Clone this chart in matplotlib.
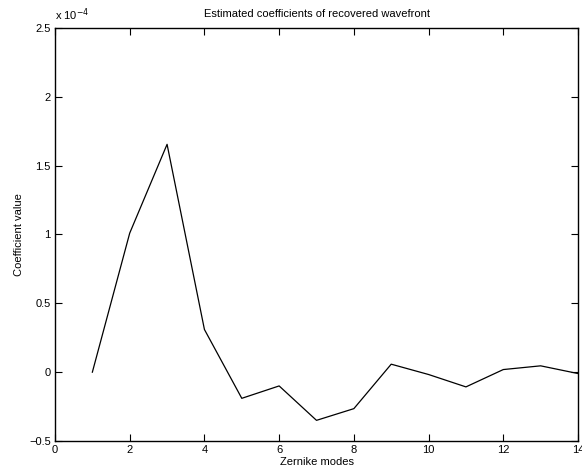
import matplotlib
matplotlib.use('Agg')
import matplotlib.pyplot as plt
import numpy as np

# Zernike mode index and estimated coefficient (units of 1e-4)
modes = np.arange(1, 15)
coeffs = np.array([0.0, 1.01, 1.655, 0.31, -0.19, -0.10, -0.35, -0.265,
                   0.058, -0.017, -0.107, 0.019, 0.046, -0.01])
xticks = [0, 2, 4, 6, 8, 10, 12, 14]
yticks = [-0.5, 0, 0.5, 1, 1.5, 2, 2.5]
ytick_labels = ['\u22120.5', '0', '0.5', '1', '1.5', '2', '2.5']

plt.rcParams['font.family'] = ['Liberation Sans', 'DejaVu Sans']
plt.rcParams['font.size'] = 8

fig = plt.figure(figsize=(5.82, 4.70), dpi=100)
ax = fig.add_axes([55 / 582, 1 - 441 / 470, (578 - 55) / 582, (441 - 28) / 470])

ax.plot(modes, coeffs, color='black', linewidth=0.9)

ax.set_xlim(0, 14)
ax.set_ylim(-0.5, 2.5)
ax.set_xticks(xticks)
ax.set_xticklabels([str(t) for t in xticks])
ax.set_yticks(yticks)
ax.set_yticklabels(ytick_labels)
ax.tick_params(direction='in', top=True, right=True, length=5, width=0.8,
               labelsize=8, pad=3)
for s in ax.spines.values():
    s.set_linewidth(1.0)

ax.set_title('Estimated coefficients of recovered wavefront', fontsize=8, pad=8)
ax.set_xlabel('Zernike modes', fontsize=8, labelpad=1)
ax.set_ylabel('Coefficient value', fontsize=8, labelpad=4)
ax.text(0.0, 1.012, 'x 10$^{-4}$', transform=ax.transAxes, fontsize=8,
        ha='left', va='bottom')

fig.savefig('out.png', dpi=100)
